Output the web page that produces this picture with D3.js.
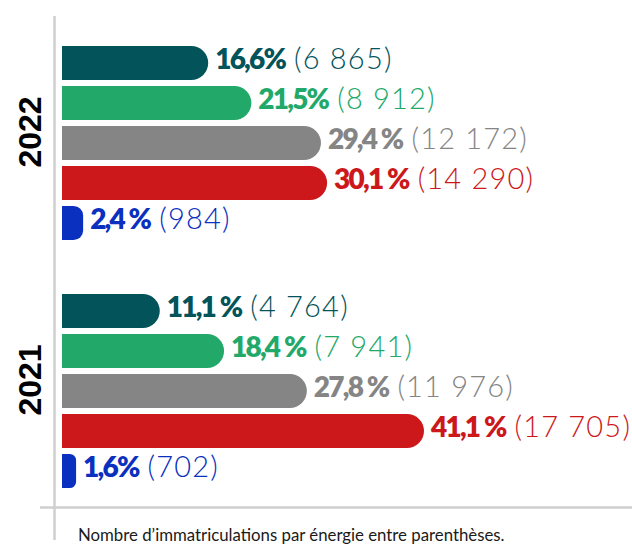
<!DOCTYPE html>
<html>
<head>
<meta charset="utf-8">
<script src="https://cdn.jsdelivr.net/npm/d3@7"></script>
<style>
  body { margin: 0; background: #fff; }
  svg { display: block; }
</style>
</head>
<body>
<div id="chart-area"></div>
<script>

// Data
let years = ["2022", "2021"];
let energies = ["energie-1", "energie-2", "energie-3", "energie-4", "energie-5"];
let colors = ["#03535b", "#22a96a", "#858585", "#cc181b", "#0a30c0"];

let pct2022 = [16.6, 21.5, 29.4, 30.1, 2.4];
let count2022 = [6865, 8912, 12172, 14290, 984];
let pctLabels2022 = ["16,6%", "21,5%", "29,4 %", "30,1 %", "2,4 %"];

let pct2021 = [11.1, 18.4, 27.8, 41.1, 1.6];
let count2021 = [4764, 7941, 11976, 17705, 702];
let pctLabels2021 = ["11,1 %", "18,4 %", "27,8 %", "41,1 %", "1,6%"];

let footnote = "Nombre d\u2019immatriculations par énergie entre parenthèses.";

let rows = [];
years.forEach((yr, i) => {
	let p = i === 0 ? pct2022 : pct2021;
	let c = i === 0 ? count2022 : count2021;
	let l = i === 0 ? pctLabels2022 : pctLabels2021;
	energies.forEach((e, j) => {
		rows.push({year: yr, energy: e, pct: p[j], count: c[j], label: l[j], color: colors[j]});
	});
});

// SVG drawing area
let width = 632, height = 544;

let svg = d3.select("#chart-area").append("svg")
	.attr("width", width)
	.attr("height", height);

svg.append("rect")
	.attr("width", width)
	.attr("height", height)
	.attr("fill", "#fff");

// Scales
let x = d3.scaleLinear()
	.domain([0, d3.max(rows, d => d.pct)])
	.range([62, 424]);

let yGroup = d3.scaleBand()
	.domain(years)
	.range([46, 488])
	.paddingInner(0.218);

let yBar = d3.scaleBand()
	.domain(energies)
	.range([0, yGroup.bandwidth()])
	.paddingInner(0.15);

let fmt = d3.formatLocale({decimal: ",", thousands: "\u00a0", grouping: [3], currency: ["", "€"]}).format(",d");

// Axis lines
svg.append("line")
	.attr("x1", 54.5).attr("x2", 54.5)
	.attr("y1", 16).attr("y2", 540)
	.attr("stroke", "#cfcfcf")
	.attr("stroke-width", 2.5);

svg.append("line")
	.attr("x1", 40).attr("x2", width)
	.attr("y1", 507.5).attr("y2", 507.5)
	.attr("stroke", "#cfcfcf")
	.attr("stroke-width", 2.5);

// Year labels
svg.selectAll(".year-label")
	.data(years)
	.enter().append("text")
	.attr("class", "year-label")
	.attr("transform", d => "translate(41," + (yGroup(d) + yGroup.bandwidth() / 2 - 11) + ") rotate(-90)")
	.attr("text-anchor", "middle")
	.attr("font-family", "'Liberation Sans', Arial, sans-serif")
	.attr("font-weight", "bold")
	.attr("font-size", 32)
	.attr("fill", "#000")
	.text(d => d);

// Bars: square left end, rounded right end
function barPath(d) {
	let x0 = x(0);
	let w = x(d.pct) - x0;
	let h = yBar.bandwidth();
	let y0 = yGroup(d.year) + yBar(d.energy);
	let r = Math.min(h / 2, w * 0.45);
	return "M" + x0 + "," + y0 +
		"H" + (x0 + w - r) +
		"A" + r + "," + r + " 0 0 1 " + (x0 + w) + "," + (y0 + r) +
		"V" + (y0 + h - r) +
		"A" + r + "," + r + " 0 0 1 " + (x0 + w - r) + "," + (y0 + h) +
		"H" + x0 + "Z";
}

svg.selectAll(".bar")
	.data(rows)
	.enter().append("path")
	.attr("class", "bar")
	.attr("d", barPath)
	.attr("fill", d => d.color);

// Value labels
let labels = svg.selectAll(".value-label")
	.data(rows)
	.enter().append("text")
	.attr("class", "value-label")
	.attr("x", d => x(d.pct) + 7)
	.attr("y", d => yGroup(d.year) + yBar(d.energy) + yBar.bandwidth() / 2)
	.attr("dy", "0.35em")
	.attr("font-family", "Lato, 'Open Sans', sans-serif")
	.attr("fill", d => d.color);

labels.append("tspan")
	.attr("font-size", 28)
	.attr("font-weight", 800)
	.attr("letter-spacing", -1.8)
	.text(d => d.label);

labels.append("tspan")
	.attr("font-size", 29)
	.attr("font-weight", 300)
	.attr("dx", 9)
	.attr("letter-spacing", 1.2)
	.text(d => "(" + fmt(d.count) + ")");

// Footnote
svg.append("text")
	.attr("x", 78)
	.attr("y", 541)
	.attr("font-family", "Lato, 'Open Sans', sans-serif")
	.attr("font-size", 16.8)
	.attr("fill", "#1a1a1a")
	.text(footnote);

</script>
</body>
</html>
